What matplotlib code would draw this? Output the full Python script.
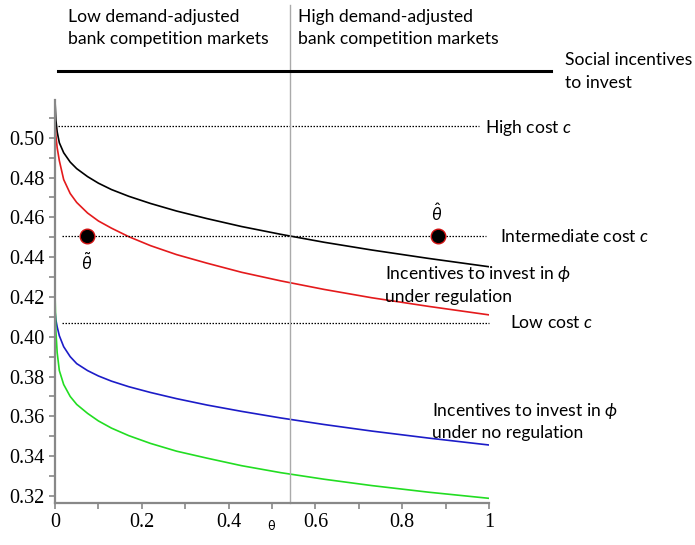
import matplotlib.pyplot as plt
from matplotlib.ticker import MultipleLocator, FuncFormatter

plt.rcParams['mathtext.fontset'] = 'custom'
plt.rcParams['mathtext.it'] = 'Lato:italic'
plt.rcParams['mathtext.rm'] = 'Lato'

# values
theta = [0, 0.002, 0.005, 0.01, 0.02, 0.035, 0.05, 0.075, 0.1, 0.13, 0.17,
         0.22, 0.28, 0.35, 0.43, 0.52, 0.62, 0.73, 0.86, 1.0]
social = [0.519, 0.509, 0.5030, 0.4975, 0.4925, 0.4878, 0.4845, 0.4805, 0.4772, 0.4740, 0.4706,
          0.4670, 0.4632, 0.4594, 0.4554, 0.4515, 0.4475, 0.4436, 0.4394, 0.4352]
regulated = [0.507, 0.501, 0.495, 0.4885, 0.4790, 0.4720, 0.4675, 0.4622, 0.4582, 0.4546, 0.4503,
             0.4458, 0.4413, 0.4370, 0.4324, 0.4281, 0.4238, 0.4196, 0.4153, 0.4110]
unreg_blue = [0.413, 0.4085, 0.4050, 0.4005, 0.3950, 0.3900, 0.3865, 0.3830, 0.3803, 0.3777, 0.3749,
              0.3720, 0.3689, 0.3657, 0.3625, 0.3592, 0.3559, 0.3526, 0.3491, 0.3456]
unreg_green = [0.422, 0.403, 0.3920, 0.3830, 0.3760, 0.3700, 0.3660, 0.3615, 0.3577, 0.3541, 0.3503,
               0.3464, 0.3425, 0.3390, 0.3352, 0.3317, 0.3284, 0.3252, 0.3219, 0.3188]

cost_levels = {'High': 0.5059, 'Intermediate': 0.4506, 'Low': 0.4068}
cost_span = {'High': (0.008, 0.977), 'Intermediate': (0.015, 0.993), 'Low': (0.016, 1.0)}
theta_tilde = 0.074
theta_hat = 0.882
theta_split = 0.541
social_line_y = 0.5335

W, H = 695, 545
fig = plt.figure(figsize=(W / 100, H / 100), dpi=100)
ax = fig.add_axes([55 / W, 1 - 502.7 / H, 434 / W, 402.7 / H])
ax.set_xlim(0, 1)
ax.set_ylim(0.3166, 0.519)

ax.plot(theta, social, color='black', lw=1.2)
ax.plot(theta, regulated, color='#e41a1c', lw=1.2)
ax.plot(theta, unreg_blue, color='#1c1cc8', lw=1.2)
ax.plot(theta, unreg_green, color='#22dd22', lw=1.2)

for k, v in cost_levels.items():
    a, b = cost_span[k]
    ax.plot([a, b], [v, v], color='black', ls=(0, (1.2, 1.2)), lw=0.9, clip_on=False)

ax.plot([theta_tilde, theta_hat], [cost_levels['Intermediate']] * 2, 'o', ms=10.5,
        mfc='black', mec='#d01010', mew=1, ls='none', zorder=5)

ax.axvline(theta_split, ymin=0, ymax=(502.7 - 5) / 402.7, color='#aaaaaa', lw=1, clip_on=False)
ax.plot([0.007, 1.143], [social_line_y, social_line_y], color='black', lw=2.2, clip_on=False)

for s in ['top', 'right']:
    ax.spines[s].set_visible(False)
for s in ['left', 'bottom']:
    ax.spines[s].set_color('#888888')
    ax.spines[s].set_linewidth(1.6)

ax.xaxis.set_major_locator(MultipleLocator(0.2))
ax.xaxis.set_minor_locator(MultipleLocator(0.1))
ax.yaxis.set_major_locator(MultipleLocator(0.02))
ax.yaxis.set_minor_locator(MultipleLocator(0.01))
ax.xaxis.set_major_formatter(FuncFormatter(lambda v, p: '0' if abs(v) < 1e-9 else ('1' if abs(v - 1) < 1e-9 else f'{v:.1f}')))
ax.yaxis.set_major_formatter(FuncFormatter(lambda v, p: f'{v:.2f}'))
ax.tick_params(which='both', color='#888888', width=1.2, length=4.5)
ax.tick_params(which='major', labelsize=14.5, pad=3)
for lab in ax.get_xticklabels() + ax.get_yticklabels():
    lab.set_family('Liberation Serif')


def ptext(x, y, s, **kw):
    fig.text(x / W, 1 - y / H, s, family='Lato', fontsize=12.6, va='center', **kw)


ptext(68, 17, 'Low demand-adjusted')
ptext(68, 39, 'bank competition markets')
ptext(298, 17, 'High demand-adjusted')
ptext(298, 39, 'bank competition markets')
ptext(565, 60, 'Social incentives')
ptext(565, 83, 'to invest')
ptext(485, 128, r'High cost $c$')
ptext(500, 237, r'Intermediate cost $c$')
ptext(510, 322, r'Low cost $c$')
ptext(385, 274, r'Incentives to invest in $\phi$')
ptext(385, 297, 'under regulation')
ptext(432, 411, r'Incentives to invest in $\phi$')
ptext(432, 433, 'under no regulation')
ptext(87, 262, r'$\tilde{\theta}$', ha='center')
ptext(437, 213, r'$\hat{\theta}$', ha='center')
fig.text(271 / W, 1 - 527 / H, 'θ', fontsize=9, ha='center', va='center')

fig.savefig('out.png', dpi=100)
